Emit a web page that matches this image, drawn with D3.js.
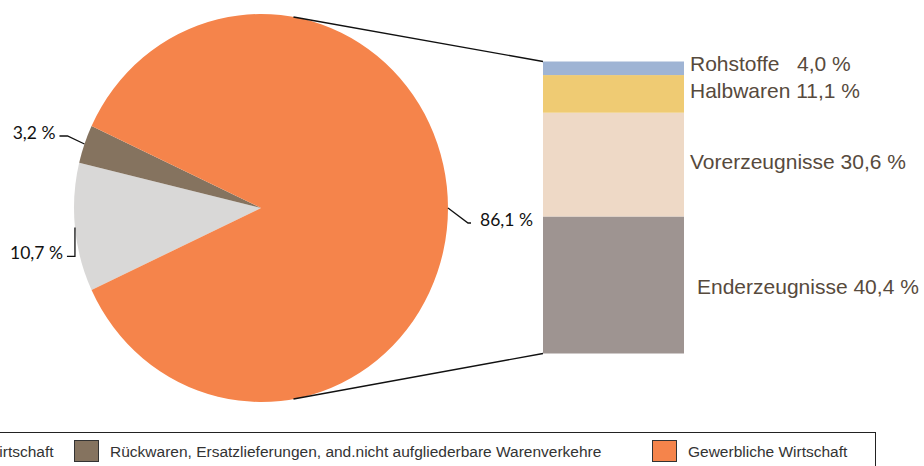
<!DOCTYPE html>
<html>
<head>
<meta charset="utf-8">
<script src="https://cdn.jsdelivr.net/npm/d3@7"></script>
<style>
  body { margin: 0; background: #fff; }
  svg { display: block; }
</style>
</head>
<body>
<svg id="chart" width="924" height="466"></svg>
<script>
// pie: main groups (sums to 100)
var pieCategories = ['Ernährungswirtschaft', 'Rückwaren, Ersatzlieferungen, and.nicht aufgliederbare Warenverkehre', 'Gewerbliche Wirtschaft'];
var pieValues = [10.7, 3.2, 86.1];
var pieLabels = ['10,7 %', '3,2 %', '86,1 %'];
var pieColors = ['#d9d8d7', '#85735f', '#f5844b'];

// bar: split of "Gewerbliche Wirtschaft", bottom to top
var barCategories = ['Enderzeugnisse', 'Vorerzeugnisse', 'Halbwaren', 'Rohstoffe'];
var barValues = [40.4, 30.6, 11.1, 4.0];
var barLabels = ['Enderzeugnisse 40,4 %', 'Vorerzeugnisse 30,6 %', 'Halbwaren 11,1 %', 'Rohstoffe   4,0 %'];
var barColors = ['#9e9491', '#eed9c6', '#efcb73', '#9fb4d4'];

var svg = d3.select('#chart');

// pie is drawn a bit taller than wide, like the original
var cx = 261, cy = 208, rx = 187, ry = 194;
var total = d3.sum(pieValues);
var small = pieValues[0] + pieValues[1];
// centre the two small slices on 9 o'clock
var start = 1.5 * Math.PI - Math.PI * small / total;

var pie = d3.pie()
  .sort(null)
  .value(function(d) { return d; })
  .startAngle(start)
  .endAngle(start + 2 * Math.PI);

var arcs = pie(pieValues);
var arc = d3.arc().innerRadius(0).outerRadius(rx);

svg.append('g')
  .attr('transform', 'translate(' + cx + ',' + cy + ') scale(1,' + (ry / rx) + ')')
  .selectAll('path')
  .data(arcs)
  .enter().append('path')
  .attr('d', arc)
  .attr('fill', function(d, i) { return pieColors[i]; });

function edgePoint(a) {
  return [cx + rx * Math.sin(a), cy - ry * Math.cos(a)];
}

// leader lines + labels for the pie
var leaders = [
  // elbow offset from the edge point, then short horizontal end
  { elbow: [0, 29], end: -8, anchor: 'end', tx: -4 },
  { elbow: [-17, -8], end: -8, anchor: 'end', tx: -4 },
  { elbow: [20, 15], end: 3, anchor: 'start', tx: 9 }
];

arcs.forEach(function(d, i) {
  var mid = (d.startAngle + d.endAngle) / 2;
  var p = edgePoint(mid);
  var L = leaders[i];
  var e = [p[0] + L.elbow[0], p[1] + L.elbow[1]];
  var f = [e[0] + L.end, e[1]];
  svg.append('path')
    .attr('d', d3.line()([p, e, f]))
    .attr('fill', 'none')
    .attr('stroke', '#111')
    .attr('stroke-width', 1.3);
  svg.append('text')
    .attr('x', f[0] + L.tx)
    .attr('y', f[1] + 3)
    .attr('text-anchor', L.anchor)
    .attr('font-family', 'Lato, "Open Sans", sans-serif')
    .attr('font-size', '17.5px')
    .attr('fill', '#111')
    .text(pieLabels[i]);
});

// stacked bar
var barX = 543, barW = 141;
var y = d3.scaleLinear()
  .domain([0, d3.sum(barValues)])
  .range([353.5, 61.5]);

var stacked = [];
var acc = 0;
barValues.forEach(function(v, i) {
  stacked.push({ y0: acc, y1: acc + v, i: i });
  acc += v;
});

svg.append('g')
  .selectAll('rect')
  .data(stacked)
  .enter().append('rect')
  .attr('x', barX)
  .attr('width', barW)
  .attr('y', function(d) { return y(d.y1); })
  .attr('height', function(d) { return y(d.y0) - y(d.y1); })
  .attr('fill', function(d) { return barColors[d.i]; });

// bar labels (Excel nudges them apart a little)
var labelNudge = [[154, 9], [147, 4], [147, 4], [147, 3]];
svg.append('g')
  .selectAll('text')
  .data(stacked)
  .enter().append('text')
  .attr('x', function(d) { return barX + labelNudge[d.i][0]; })
  .attr('y', function(d) { return (y(d.y0) + y(d.y1)) / 2 + labelNudge[d.i][1]; })
  .attr('font-family', '"Liberation Sans", Arial, sans-serif')
  .attr('font-size', '21px')
  .attr('fill', '#574a3d')
  .style('white-space', 'pre')
  .text(function(d) { return barLabels[d.i]; });

// connector lines pie -> bar
var topP = edgePoint((10 / 180) * Math.PI);
var botP = edgePoint(Math.PI - (10 / 180) * Math.PI);
svg.append('path')
  .attr('d', d3.line()([topP, [barX, y(d3.sum(barValues))]]))
  .attr('stroke', '#111').attr('stroke-width', 1.4).attr('fill', 'none');
svg.append('path')
  .attr('d', d3.line()([botP, [barX, y(0)]]))
  .attr('stroke', '#111').attr('stroke-width', 1.4).attr('fill', 'none');

// legend (left part is cut off in the original)
var legend = svg.append('g');
legend.append('rect')
  .attr('x', -300.5)
  .attr('y', 432.5)
  .attr('width', 1176)
  .attr('height', 60)
  .attr('fill', 'none')
  .attr('stroke', '#222')
  .attr('stroke-width', 1);

var legendX = [-128, 74, 652];
pieCategories.forEach(function(c, i) {
  legend.append('rect')
    .attr('x', legendX[i] + 0.5)
    .attr('y', 440.5)
    .attr('width', 24)
    .attr('height', 21)
    .attr('fill', pieColors[i])
    .attr('stroke', '#333')
    .attr('stroke-width', 1);
  legend.append('text')
    .attr('x', legendX[i] + 36)
    .attr('y', 457)
    .attr('font-family', '"Liberation Sans", Arial, sans-serif')
    .attr('font-size', '15.5px')
    .attr('fill', '#333')
    .text(c);
});
</script>
</body>
</html>
